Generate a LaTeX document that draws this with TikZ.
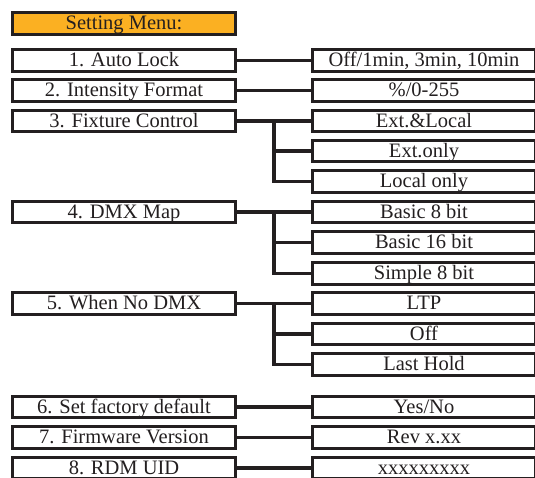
\documentclass[tikz,border=0pt]{standalone}
\usepackage{fontspec}
\setmainfont{Liberation Serif}
\definecolor{menuorange}{RGB}{251,176,34}
\definecolor{boxline}{RGB}{35,31,32}
\usetikzlibrary{calc}

\begin{document}
\begin{tikzpicture}[x=1pt,y=-1pt,
    item/.style={draw=boxline,line width=3.2pt,minimum width=223pt,minimum height=21.5pt,
      inner sep=0pt,text height=12.5pt,text depth=0pt,
      font=\fontsize{20.5}{20.5}\selectfont,text=boxline},
    link/.style={draw=boxline,line width=3.2pt}]
  \useasboundingbox (0,0) rectangle (535,478);
  \clip (0,0) rectangle (535,478);

  \node[item,fill=menuorange] (menu) at (124,23.5) {Setting Menu:};

  % menu entries
  \node[item] (lock)    at (124,60.5)  {1. Auto Lock};
  \node[item] (intens)  at (124,90.5)  {2. Intensity Format};
  \node[item] (fixctl)  at (124,121)   {3. Fixture Control};
  \node[item] (dmxmap)  at (124,212)   {4. DMX Map};
  \node[item] (nodmx)   at (124,303.5) {5. When No DMX};
  \node[item] (factory) at (124,407)   {6. Set factory default};
  \node[item] (firmw)   at (124,437.5) {7. Firmware Version};
  \node[item] (rdmuid)  at (124,468)   {8. RDM UID};

  % settings
  \node[item] (lockval)   at (424,60.5)  {Off/1min, 3min, 10min};
  \node[item] (intensval) at (424,90.5)  {\%/0-255};
  \node[item] (extlocal)  at (424,121)   {Ext.\&Local};
  \node[item] (extonly)   at (424,151)   {Ext.only};
  \node[item] (localonly) at (424,181.5) {Local only};
  \node[item] (basic8)    at (424,212)   {Basic 8 bit};
  \node[item] (basic16)   at (424,242.5) {Basic 16 bit};
  \node[item] (simple8)   at (424,273.5) {Simple 8 bit};
  \node[item] (ltp)       at (424,303.5) {LTP};
  \node[item] (dmxoff)    at (424,334)   {Off};
  \node[item] (lasthold)  at (424,364.5) {Last Hold};
  \node[item] (yesno)     at (424,407)   {Yes/No};
  \node[item] (revx)      at (424,437.5) {Rev x.xx};
  \node[item] (uidval)    at (424,468)   {xxxxxxxxx};

  % connectors
  \draw[link] (lock.east) -- (lockval.west);
  \draw[link] (intens.east) -- (intensval.west);
  \draw[link] (fixctl.east) -- (extlocal.west);
  \draw[link] (dmxmap.east) -- (basic8.west);
  \draw[link] (nodmx.east) -- (ltp.west);
  \draw[link] (factory.east) -- (yesno.west);
  \draw[link] (firmw.east) -- (revx.west);
  \draw[link] (rdmuid.east) -- (uidval.west);

  \coordinate (forkfix) at ($(fixctl.east)!.5!(extlocal.west)$);
  \coordinate (forkmap) at ($(dmxmap.east)!.5!(basic8.west)$);
  \coordinate (forkno)  at ($(nodmx.east)!.5!(ltp.west)$);
  \draw[link] (forkfix) |- (extonly.west);
  \draw[link] (forkfix) |- (localonly.west);
  \draw[link] (forkmap) |- (basic16.west);
  \draw[link] (forkmap) |- (simple8.west);
  \draw[link] (forkno) |- (dmxoff.west);
  \draw[link] (forkno) |- (lasthold.west);
\end{tikzpicture}
\end{document}
